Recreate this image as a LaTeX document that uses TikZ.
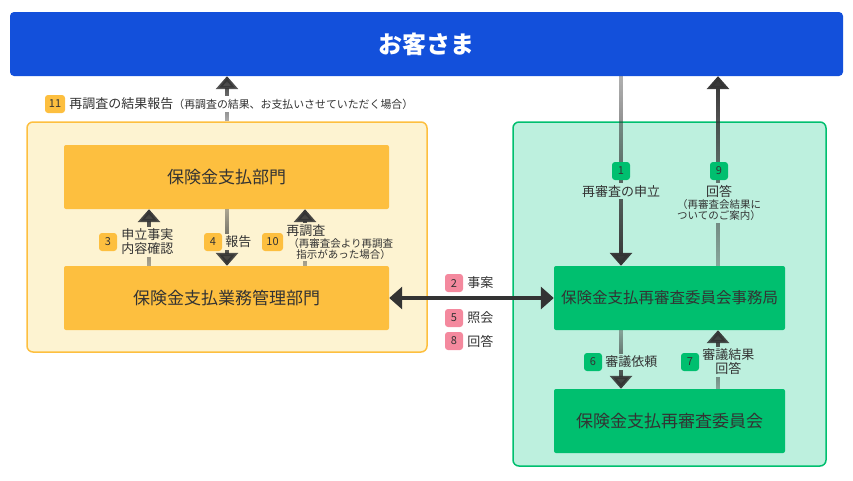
\documentclass[tikz,border=0pt]{standalone}
\usepackage{fontspec}
\setmainfont{Noto Sans CJK JP}
\usetikzlibrary{arrows.meta, positioning, fadings}

\definecolor{custblue}{HTML}{1350DB}
\definecolor{amber}{HTML}{FDBF3F}
\definecolor{cream}{HTML}{FDF3D1}
\definecolor{mint}{HTML}{BDF0DE}
\definecolor{leaf}{HTML}{00BF6F}
\definecolor{rose}{HTML}{F4899E}
\definecolor{ink}{HTML}{333333}

\tikzfading[name=fadeup, top color=transparent!0, bottom color=transparent!62]
\tikzfading[name=fadedown, top color=transparent!62, bottom color=transparent!0]

\newcommand{\smalltext}{\fontsize{10.5pt}{12pt}\selectfont}

\begin{document}
\begin{tikzpicture}[x=1pt, y=-1pt,
        bar/.style={rectangle, fill=custblue, rounded corners=4pt, minimum width=833pt, minimum height=64pt, text=white, font=\fontsize{24pt}{26pt}\selectfont\bfseries},
        panel/.style={rectangle, rounded corners=6pt, line width=1.5pt},
        unit/.style={rectangle, rounded corners=2pt, minimum height=64pt, text=ink, font=\fontsize{17pt}{19pt}\selectfont},
        badge/.style={rectangle, rounded corners=3pt, minimum width=18pt, minimum height=18pt, inner sep=0pt, text=ink, font=\fontsize{11pt}{11pt}\selectfont},
        note/.style={inner sep=2pt, text=ink, align=left, font=\fontsize{13pt}{14pt}\selectfont},
        flow/.style={-{Triangle[width=22pt, length=13pt]}, line width=4pt, draw=ink},
        up/.style={path fading=fadeup, fading transform={xscale=8}},
        down/.style={path fading=fadedown, fading transform={xscale=8}}
    ]
            \useasboundingbox (0,0) rectangle (853,480);

            \node[bar] (customer) at (426.5,44) {お客さま};
            \node[panel, fill=cream, draw=amber, minimum width=400pt, minimum height=230pt] (leftpanel) at (227,237) {};
            \node[panel, fill=mint, draw=leaf, minimum width=313pt, minimum height=344pt] (rightpanel) at (669.5,294) {};

            \node[unit, fill=amber, minimum width=325pt] (payment) at (226.5,177) {保険金支払部門};
            \node[unit, fill=amber, minimum width=325pt] (mgmt) at (226.5,298) {保険金支払業務管理部門};
            \node[unit, fill=leaf, minimum width=231pt, font=\fontsize{15.5pt}{17pt}\selectfont] (office) at (669.5,298) {保険金支払再審査委員会事務局};
            \node[unit, fill=leaf, minimum width=231pt] (committee) at (669.5,421) {保険金支払再審査委員会};

            % Columns of the vertical arrows
            \coordinate (c3) at (149,0);
            \coordinate (c4) at (227,0);
            \coordinate (c10) at (305,0);
            \coordinate (c1) at (621,0);
            \coordinate (c9) at (718,0);

            % Relations
            \draw[flow, up] (leftpanel.north -| c4) -- (customer.south -| c4);
            \draw[flow, up] (mgmt.north -| c3) -- (payment.south -| c3);
            \draw[flow, down] (payment.south -| c4) -- (mgmt.north -| c4);
            \draw[flow, up] (mgmt.north -| c10) -- (payment.south -| c10);
            \draw[flow, {Triangle[width=22pt, length=13pt]}-{Triangle[width=22pt, length=13pt]}] (mgmt) -- (office);
            \draw[flow, down] (customer.south -| c1) -- (office.north -| c1);
            \draw[flow, up] (office.north -| c9) -- (customer.south -| c9);
            \draw[flow, down] (office.south -| c1) -- (committee.north -| c1);
            \draw[flow, up] (committee.north -| c9) -- (office.south -| c9);

            % Labels
            \node[badge, fill=amber, minimum width=20pt] (b11) at (55,104) {11};
            \node[note, fill=white, right=2pt of b11] (t11) {再調査の結果報告{\fontsize{10.9pt}{12pt}\selectfont （再調査の結果、お支払いさせていただく場合）}};

            \node[badge, fill=amber] (b3) at (108,242) {3};
            \node[note, fill=cream, right=2pt of b3] (t3) {申立事実\\内容確認};
            \node[badge, fill=amber] (b4) at (213,242) {4};
            \node[note, fill=cream, right=1pt of b4] (t4) {報告};
            \node[badge, fill=amber, minimum width=21pt] (b10) at (272.5,242) {10};
            \node[note, fill=cream, right=1pt of b10] (t10) {再調査\\[-2pt]{\smalltext\hspace*{2pt}（再審査会より再調査}\\[-3pt]{\smalltext\hspace*{10pt}指示があった場合）}};

            \node[badge, fill=rose] (b2) at (454,283) {2};
            \node[note, right=2pt of b2] (t2) {事案};
            \node[badge, fill=rose] (b5) at (454,318) {5};
            \node[note, right=2pt of b5] (t5) {照会};
            \node[badge, fill=rose] (b8) at (454,341) {8};
            \node[note, right=2pt of b8] (t8) {回答};

            \node[badge, fill=leaf] (b1) at (621,171) {1};
            \node[note, fill=mint, below=3pt of b1] (t1) {再審査の申立};
            \node[badge, fill=leaf] (b9) at (719,171) {9};
            \node[note, fill=mint, align=center, below=3pt of b9] (t9) {回答\\[-2pt]{\smalltext （再審査会結果に}\\[-3pt]{\smalltext ついてのご案内）}};

            \node[badge, fill=leaf] (b6) at (593,362) {6};
            \node[note, fill=mint, right=1pt of b6] (t6) {審議依頼};
            \node[badge, fill=leaf] (b7) at (690,362) {7};
            \node[note, fill=mint, align=center, right=1pt of b7] (t7) {審議結果\\回答};
    \end{tikzpicture}
\end{document}
